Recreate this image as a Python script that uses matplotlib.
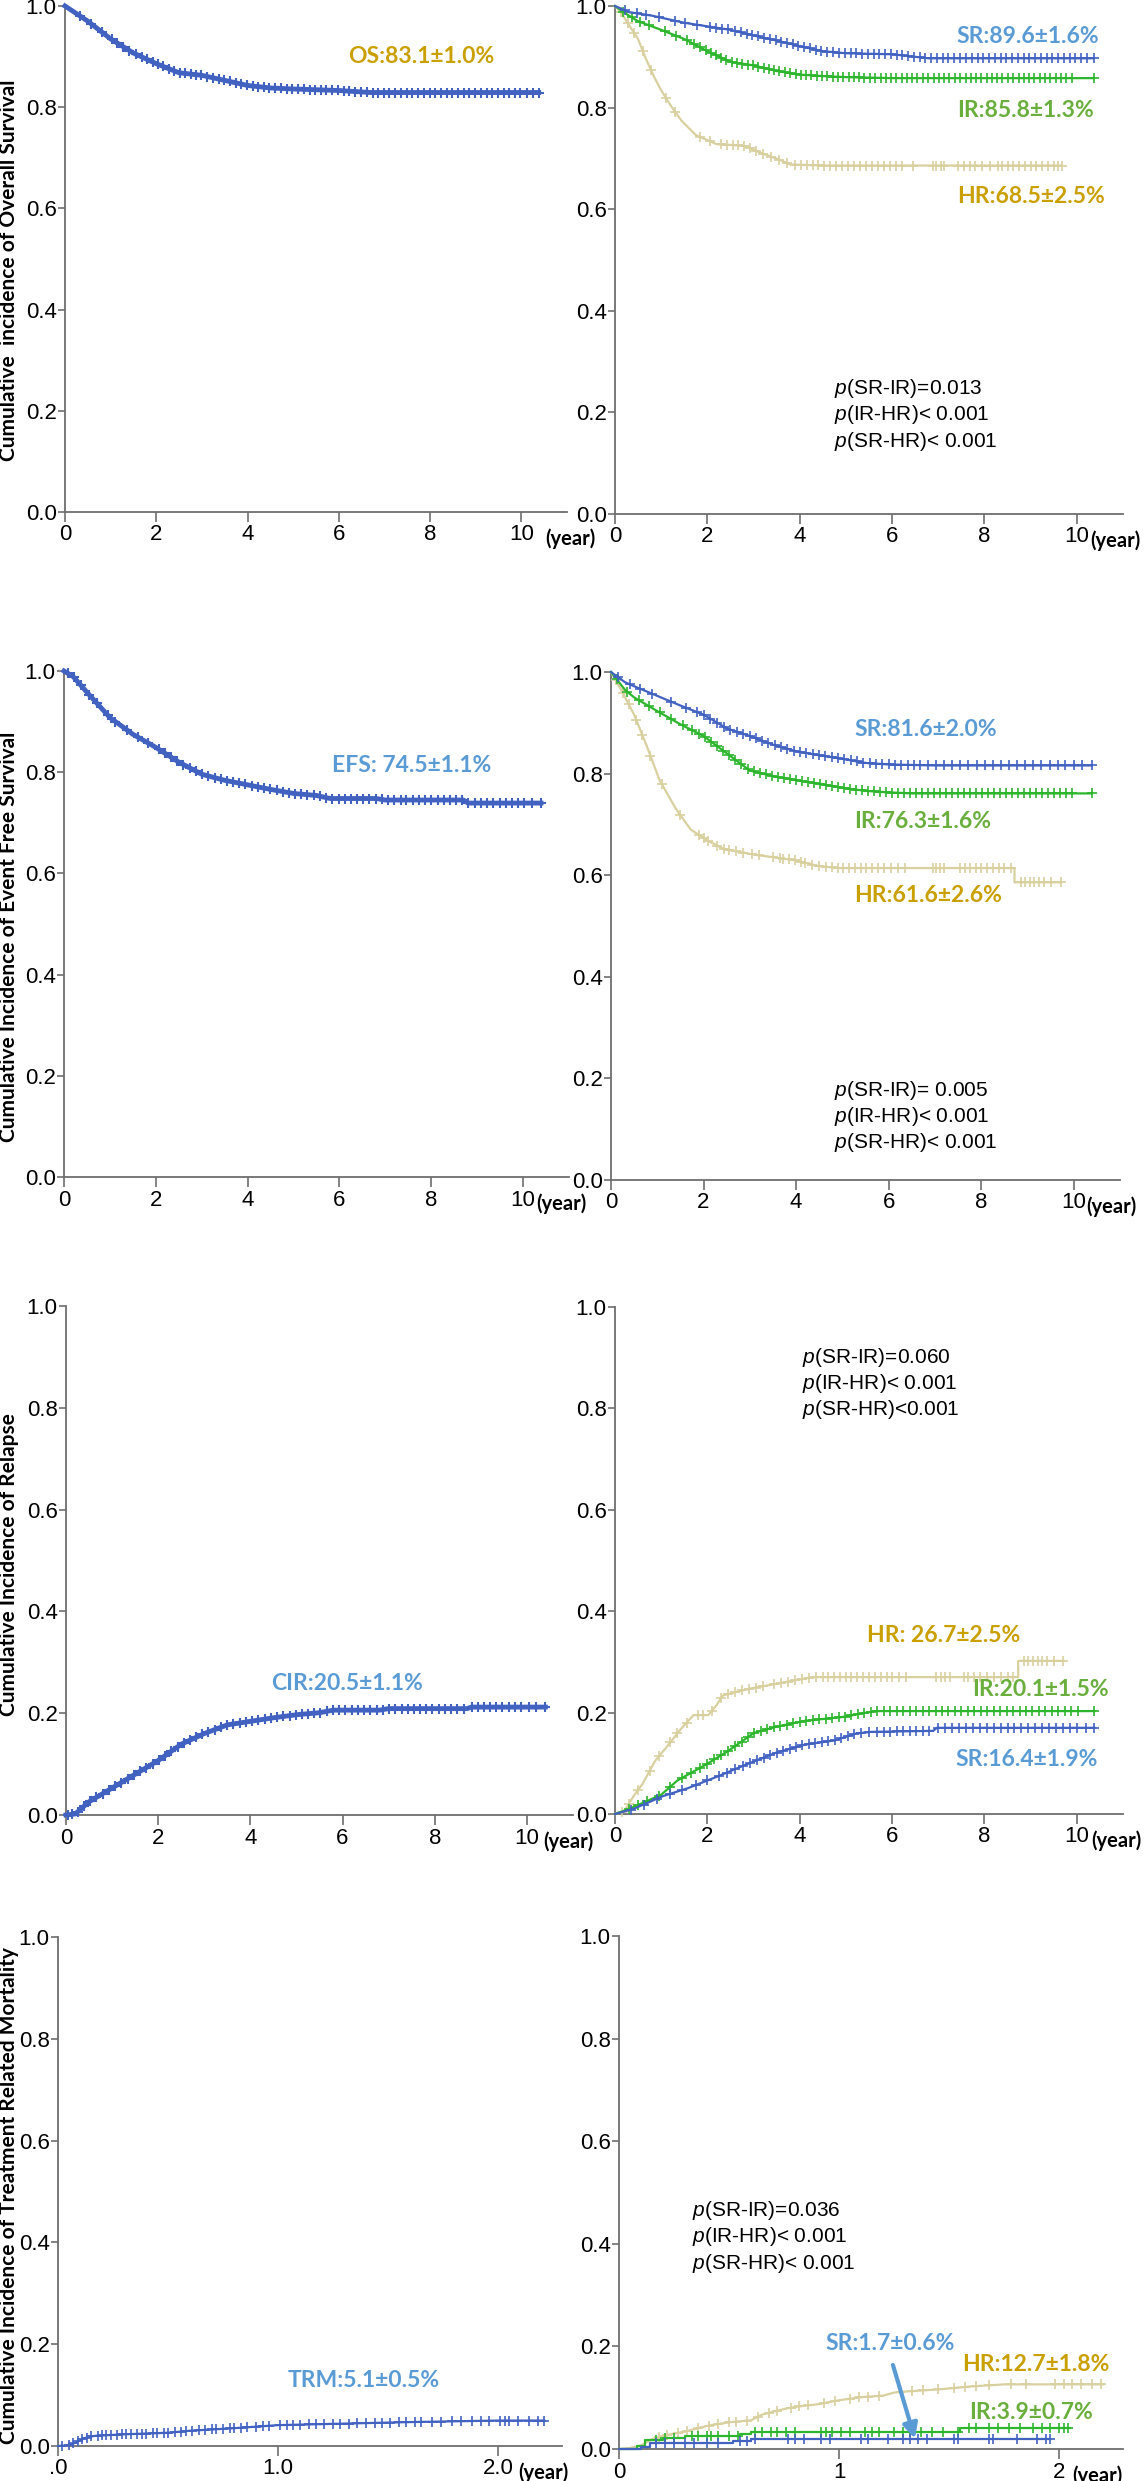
# Curvas de supervivencia / incidencia acumulada (8 paneles, 4 filas x 2 columnas)
import numpy as np
import matplotlib
matplotlib.use('Agg')
import matplotlib.pyplot as plt

plt.rcParams['font.family'] = ['Liberation Sans', 'DejaVu Sans']
plt.rcParams['mathtext.fontset'] = 'custom'
plt.rcParams['mathtext.it'] = 'Liberation Sans:italic'
plt.rcParams['mathtext.rm'] = 'Liberation Sans'

# colores
blue = '#4262C2'
green = '#2DB52D'
tan = '#D9D0A0'
gold_txt = '#C9A000'
lblue_txt = '#5B9BD5'
green_txt = '#6AAE3E'

# ---------------- datos ----------------
# Fila 1: supervivencia global
os_t = [0, 0.2, 0.5, 1.0, 1.5, 2.0, 2.5, 3.0, 3.5, 4.0, 4.5, 5.0, 6.0, 6.7, 10.38]
os_s = [1.0, 0.988, 0.970, 0.935, 0.907, 0.886, 0.868, 0.863, 0.853, 0.843, 0.838, 0.836, 0.833, 0.829, 0.829]
os_cens = [0.32, 0.58, 0.81, 1.02, 1.15, 1.27, 1.41, 1.55, 1.68, 1.79, 1.92, 2.03, 2.14, 2.27, 2.38, 2.51,
           2.62, 2.76, 2.87, 2.99, 3.12, 3.24, 3.37, 3.49, 3.61, 3.74, 3.86, 3.98, 4.11, 4.23, 4.36, 4.48,
           4.61, 4.73, 4.86, 4.98, 5.11, 5.23, 5.36, 5.48, 5.61, 5.73, 5.86, 5.98, 6.11, 6.23, 6.36, 6.48,
           6.61, 6.74, 6.86, 6.99, 7.11, 7.24, 7.36, 7.49, 7.61, 7.74, 7.86, 7.99, 8.11, 8.24, 8.36, 8.49,
           8.61, 8.74, 8.86, 8.99, 9.11, 9.24, 9.36, 9.49, 9.61, 9.74, 9.85, 9.97, 10.13, 10.25, 10.38]

sr_os_t = [0, 0.3, 0.8, 1.5, 2.0, 2.5, 3.0, 3.5, 4.0, 4.5, 5.0, 6.0, 6.5, 6.8, 10.37]
sr_os_s = [1.0, 0.988, 0.981, 0.967, 0.960, 0.953, 0.942, 0.932, 0.921, 0.911, 0.907, 0.905, 0.900, 0.897, 0.897]
sr_os_cens = [0.22, 0.47, 0.68, 0.95, 1.3, 1.52, 1.78, 2.05, 2.18, 2.31, 2.44, 2.6, 2.72, 2.85, 2.97, 3.1,
              3.22, 3.36, 3.48, 3.6, 3.73, 3.85, 3.97, 4.1, 4.22, 4.35, 4.47, 4.6, 4.72, 4.85, 4.97, 5.1,
              5.22, 5.35, 5.47, 5.6, 5.72, 5.85, 5.97, 6.1, 6.22, 6.35, 6.47, 6.6, 6.72, 6.85, 6.97, 7.1,
              7.22, 7.35, 7.47, 7.6, 7.72, 7.85, 7.97, 8.1, 8.22, 8.35, 8.47, 8.6, 8.72, 8.85, 8.97, 9.1,
              9.22, 9.35, 9.47, 9.6, 9.72, 9.85, 9.97, 10.1, 10.22, 10.37]
ir_os_t = [0, 0.3, 0.5, 1.0, 1.5, 2.0, 2.5, 3.0, 3.5, 4.0, 4.5, 5.0, 6.0, 10.37]
ir_os_s = [1.0, 0.981, 0.970, 0.953, 0.935, 0.911, 0.890, 0.883, 0.872, 0.865, 0.862, 0.860, 0.858, 0.858]
ir_os_cens = [0.18, 0.36, 0.55, 0.74, 1.08, 1.33, 1.56, 1.71, 1.84, 1.96, 2.08, 2.19, 2.3, 2.41, 2.53, 2.64,
              2.76, 2.87, 2.99, 3.1, 3.22, 3.33, 3.45, 3.56, 3.68, 3.79, 3.91, 4.02, 4.14, 4.25, 4.37, 4.48,
              4.6, 4.71, 4.83, 4.94, 5.06, 5.17, 5.29, 5.4, 5.52, 5.63, 5.75, 5.86, 5.98, 6.09, 6.21, 6.32,
              6.44, 6.55, 6.67, 6.78, 6.9, 7.01, 7.13, 7.24, 7.36, 7.47, 7.59, 7.7, 7.82, 7.93, 8.05, 8.16,
              8.28, 8.39, 8.51, 8.62, 8.74, 8.85, 8.97, 9.08, 9.2, 9.31, 9.43, 9.54, 9.66, 9.77, 9.89, 10.37]
hr_os_t = [0, 0.15, 0.3, 0.5, 0.65, 0.85, 1.0, 1.2, 1.44, 1.75, 2.2, 2.78, 3.16, 3.57, 3.8, 4.5, 9.68]
hr_os_s = [1.0, 0.985, 0.963, 0.935, 0.900, 0.860, 0.834, 0.805, 0.774, 0.746, 0.728, 0.725, 0.711, 0.697,
           0.688, 0.686, 0.686]
hr_os_cens = [0.12, 0.28, 0.41, 0.6, 0.78, 1.1, 1.3, 1.85, 2.05, 2.3, 2.42, 2.55, 2.66, 2.8, 2.92, 3.05,
              3.2, 3.38, 3.55, 3.72, 3.9, 4.02, 4.15, 4.28, 4.4, 4.53, 4.66, 4.79, 4.92, 5.05, 5.18, 5.31,
              5.44, 5.57, 5.7, 5.83, 5.96, 6.09, 6.22, 6.45, 6.88, 6.95, 7.05, 7.12, 7.42, 7.55, 7.68, 7.8,
              7.95, 8.12, 8.3, 8.38, 8.5, 8.62, 8.75, 8.88, 9.0, 9.12, 9.25, 9.38, 9.5, 9.6, 9.68]

# Fila 2: supervivencia libre de eventos
efs_t = [0, 0.2, 0.5, 1.0, 1.5, 2.0, 2.5, 3.0, 3.5, 4.0, 4.5, 5.0, 5.5, 5.8, 6.8, 7.0, 8.7, 8.8, 10.39]
efs_s = [1.0, 0.989, 0.958, 0.908, 0.875, 0.849, 0.820, 0.796, 0.784, 0.775, 0.766, 0.758, 0.754, 0.748,
         0.748, 0.745, 0.745, 0.739, 0.739]
efs_cens = [0.08, 0.21, 0.37, 0.55, 0.72, 0.95, 1.12, 1.38, 1.62, 1.83, 2.06, 2.2, 2.33, 2.47, 2.6, 2.74,
            2.87, 3.01, 3.14, 3.28, 3.41, 3.55, 3.68, 3.82, 3.95, 4.09, 4.22, 4.36, 4.49, 4.63, 4.76, 4.9,
            5.03, 5.17, 5.3, 5.44, 5.57, 5.71, 5.84, 5.98, 6.11, 6.25, 6.38, 6.52, 6.65, 6.79, 6.92, 7.06,
            7.19, 7.33, 7.46, 7.6, 7.73, 7.87, 8.0, 8.14, 8.27, 8.41, 8.54, 8.68, 8.81, 8.95, 9.08, 9.22,
            9.35, 9.49, 9.62, 9.76, 9.89, 10.03, 10.2, 10.39]

sr_efs_t = [0, 0.3, 0.5, 1.0, 1.5, 2.0, 2.5, 3.0, 3.5, 4.0, 4.5, 5.0, 5.5, 6.0, 7.0, 10.39]
sr_efs_s = [1.0, 0.980, 0.972, 0.953, 0.934, 0.916, 0.889, 0.874, 0.857, 0.844, 0.836, 0.829, 0.821, 0.818,
            0.816, 0.816]
sr_efs_cens = [0.16, 0.4, 0.62, 0.88, 1.3, 1.62, 1.85, 2.02, 2.15, 2.3, 2.45, 2.58, 2.72, 2.86, 3.0, 3.13,
               3.27, 3.4, 3.54, 3.68, 3.81, 3.95, 4.09, 4.22, 4.36, 4.5, 4.63, 4.77, 4.9, 5.04, 5.18, 5.31,
               5.45, 5.59, 5.72, 5.86, 6.0, 6.13, 6.27, 6.41, 6.54, 6.68, 6.85, 7.02, 7.2, 7.38, 7.55, 7.72,
               7.9, 8.08, 8.26, 8.43, 8.6, 8.78, 8.95, 9.12, 9.3, 9.48, 9.65, 9.82, 10.0, 10.18, 10.39]
ir_efs_t = [0, 0.3, 0.5, 1.0, 1.5, 2.0, 2.5, 3.0, 3.5, 4.0, 4.5, 5.0, 5.5, 6.0, 6.5, 10.39]
ir_efs_s = [1.0, 0.965, 0.950, 0.923, 0.897, 0.874, 0.840, 0.806, 0.795, 0.787, 0.780, 0.772, 0.766, 0.763,
            0.761, 0.761]
ir_efs_cens = [0.12, 0.35, 0.6, 0.82, 1.05, 1.3, 1.55, 1.75, 1.9, 2.04, 2.17, 2.3, 2.43, 2.56, 2.69, 2.82,
               2.95, 3.08, 3.21, 3.34, 3.47, 3.6, 3.73, 3.86, 3.99, 4.12, 4.25, 4.38, 4.51, 4.64, 4.77, 4.9,
               5.03, 5.16, 5.29, 5.42, 5.55, 5.68, 5.81, 5.94, 6.07, 6.2, 6.33, 6.46, 6.59, 6.72, 6.85, 6.98,
               7.11, 7.24, 7.37, 7.5, 7.63, 7.76, 7.89, 8.02, 8.15, 8.28, 8.41, 8.54, 8.67, 8.8, 8.93, 9.06,
               9.19, 9.32, 9.45, 9.58, 9.71, 9.84, 9.97, 10.39]
hr_efs_t = [0, 0.2, 0.5, 0.77, 1.05, 1.4, 1.72, 2.11, 2.43, 3.06, 3.53, 4.0, 4.48, 4.95, 8.72, 8.72, 9.72]
hr_efs_s = [1.0, 0.968, 0.916, 0.855, 0.787, 0.731, 0.690, 0.667, 0.652, 0.641, 0.635, 0.629, 0.618, 0.614,
            0.614, 0.586, 0.586]
hr_efs_cens = [0.1, 0.25, 0.38, 0.55, 0.68, 0.85, 1.1, 1.5, 1.9, 2.0, 2.1, 2.3, 2.45, 2.55, 2.7, 2.85,
               3.05, 3.2, 3.5, 3.65, 3.72, 3.85, 3.98, 4.1, 4.2, 4.35, 4.5, 4.65, 4.78, 4.9, 5.02, 5.15,
               5.28, 5.4, 5.52, 5.65, 5.78, 5.9, 6.05, 6.2, 6.35, 6.95, 7.02, 7.1, 7.2, 7.55, 7.65, 7.75,
               7.88, 8.0, 8.12, 8.25, 8.38, 8.5, 8.65, 8.85, 8.95, 9.05, 9.15, 9.25, 9.35, 9.5, 9.72]

# Fila 3: incidencia acumulada de recaida
cir_t = [0, 0.2, 0.5, 1.0, 1.5, 2.0, 2.5, 3.0, 3.5, 4.0, 4.5, 5.0, 5.5, 5.8, 6.8, 7.0, 8.7, 8.8, 10.4]
cir_s = [0.0, 0.002, 0.026, 0.053, 0.080, 0.107, 0.139, 0.160, 0.177, 0.184, 0.191, 0.197, 0.201, 0.206,
         0.206, 0.209, 0.209, 0.212, 0.212]
cir_cens = [0.05, 0.14, 0.26, 0.39, 0.52, 0.66, 0.8, 0.93, 1.07, 1.2, 1.34, 1.47, 1.61, 1.74, 1.88, 2.01,
            2.15, 2.28, 2.42, 2.55, 2.69, 2.82, 2.96, 3.09, 3.23, 3.36, 3.5, 3.63, 3.77, 3.9, 4.04, 4.17,
            4.31, 4.44, 4.58, 4.71, 4.85, 4.98, 5.12, 5.25, 5.39, 5.52, 5.66, 5.79, 5.93, 6.06, 6.2, 6.33,
            6.47, 6.6, 6.74, 6.87, 7.01, 7.14, 7.28, 7.41, 7.55, 7.68, 7.82, 7.95, 8.09, 8.22, 8.36, 8.49,
            8.63, 8.8, 8.93, 9.07, 9.2, 9.34, 9.47, 9.61, 9.74, 9.88, 10.05, 10.2, 10.4]

sr_cir_t = [0, 0.4, 1.03, 1.58, 2.22, 2.85, 3.49, 4.12, 4.75, 5.23, 5.55, 6.89, 6.97, 10.38]
sr_cir_s = [0.0, 0.010, 0.035, 0.051, 0.074, 0.098, 0.121, 0.137, 0.145, 0.159, 0.162, 0.164, 0.170, 0.170]
sr_cir_cens = [0.35, 0.62, 0.9, 1.2, 1.45, 1.75, 2.0, 2.25, 2.42, 2.6, 2.78, 2.92, 3.08, 3.22, 3.36, 3.5,
               3.64, 3.78, 3.92, 4.06, 4.2, 4.34, 4.48, 4.62, 4.76, 4.9, 5.04, 5.18, 5.32, 5.5, 5.68, 5.82,
               5.96, 6.1, 6.24, 6.38, 6.52, 6.66, 6.8, 7.0, 7.15, 7.3, 7.45, 7.6, 7.75, 7.9, 8.05, 8.2,
               8.35, 8.5, 8.65, 8.8, 8.95, 9.1, 9.25, 9.4, 9.55, 9.7, 9.85, 10.0, 10.2, 10.38]
ir_cir_t = [0, 0.3, 0.63, 1.0, 1.35, 1.98, 2.46, 3.01, 3.49, 4.12, 4.91, 5.63, 10.38]
ir_cir_s = [0.0, 0.010, 0.023, 0.038, 0.066, 0.098, 0.125, 0.160, 0.172, 0.184, 0.191, 0.203, 0.203]
ir_cir_cens = [0.3, 0.5, 0.7, 0.95, 1.2, 1.45, 1.65, 1.85, 2.0, 2.15, 2.3, 2.45, 2.6, 2.74, 2.88, 3.02,
               3.16, 3.3, 3.44, 3.58, 3.72, 3.86, 4.0, 4.14, 4.28, 4.42, 4.56, 4.7, 4.84, 4.98, 5.12, 5.26,
               5.4, 5.54, 5.68, 5.82, 5.96, 6.1, 6.24, 6.38, 6.52, 6.66, 6.8, 6.94, 7.08, 7.22, 7.36, 7.5,
               7.64, 7.78, 7.92, 8.06, 8.2, 8.34, 8.48, 8.62, 8.76, 8.9, 9.04, 9.18, 9.32, 9.46, 9.6, 9.74,
               9.88, 10.02, 10.38]
hr_cir_t = [0, 0.2, 0.4, 0.6, 0.87, 1.1, 1.43, 1.7, 2.02, 2.2, 2.34, 2.85, 3.33, 3.8, 4.28, 8.73, 8.73, 9.71]
hr_cir_s = [0.0, 0.005, 0.035, 0.060, 0.105, 0.130, 0.168, 0.195, 0.195, 0.215, 0.234, 0.246, 0.254, 0.262,
            0.270, 0.270, 0.302, 0.302]
hr_cir_cens = [0.15, 0.3, 0.5, 0.75, 0.95, 1.2, 1.35, 1.55, 1.8, 1.9, 2.1, 2.3, 2.45, 2.6, 2.75, 2.9,
               3.05, 3.2, 3.45, 3.6, 3.75, 3.9, 4.05, 4.2, 4.35, 4.5, 4.62, 4.75, 4.88, 5.0, 5.12, 5.25,
               5.38, 5.5, 5.62, 5.75, 5.88, 6.0, 6.15, 6.3, 6.95, 7.05, 7.15, 7.25, 7.55, 7.65, 7.78, 7.9,
               8.05, 8.2, 8.35, 8.5, 8.62, 8.85, 8.95, 9.05, 9.15, 9.25, 9.35, 9.5, 9.71]

# Fila 4: mortalidad relacionada con el tratamiento
trm_t = [0, 0.03, 0.06, 0.08, 0.10, 0.12, 0.14, 0.17, 0.3, 0.5, 0.6, 0.8, 1.0, 1.3, 1.6, 2.0, 2.21]
trm_s = [0.0, 0.001, 0.003, 0.007, 0.011, 0.015, 0.018, 0.020, 0.023, 0.026, 0.030, 0.035, 0.041, 0.044,
         0.047, 0.050, 0.050]
trm_cens = [0.02, 0.05, 0.07, 0.09, 0.11, 0.13, 0.15, 0.18, 0.2, 0.22, 0.24, 0.27, 0.29, 0.31, 0.33, 0.36,
            0.38, 0.4, 0.43, 0.45, 0.48, 0.5, 0.53, 0.56, 0.58, 0.61, 0.64, 0.67, 0.7, 0.72, 0.75, 0.78,
            0.8, 0.83, 0.86, 0.9, 0.93, 0.96, 1.01, 1.04, 1.07, 1.1, 1.14, 1.17, 1.21, 1.25, 1.28, 1.32,
            1.36, 1.4, 1.44, 1.47, 1.51, 1.55, 1.58, 1.62, 1.65, 1.7, 1.74, 1.79, 1.83, 1.88, 1.92, 1.96,
            2.01, 2.03, 2.05, 2.09, 2.14, 2.18, 2.21]

sr_trm_t = [0, 0.1, 0.1, 0.14, 0.14, 0.52, 0.52, 0.6, 0.6, 1.96]
sr_trm_s = [0.0, 0.0, 0.004, 0.004, 0.011, 0.011, 0.015, 0.015, 0.019, 0.019]
sr_trm_cens = [0.17, 0.21, 0.25, 0.3, 0.34, 0.4, 0.45, 0.55, 0.58, 0.62, 0.77, 0.8, 0.84, 0.92, 0.96,
               1.1, 1.13, 1.22, 1.29, 1.32, 1.36, 1.4, 1.52, 1.54, 1.68, 1.7, 1.81, 1.9, 1.94, 1.96]
ir_trm_t = [0, 0.08, 0.08, 0.12, 0.12, 0.2, 0.2, 0.3, 0.3, 0.55, 0.55, 0.6, 0.6, 1.55, 1.55, 2.05]
ir_trm_s = [0.0, 0.0, 0.006, 0.006, 0.017, 0.017, 0.022, 0.022, 0.026, 0.026, 0.030, 0.030, 0.034, 0.034,
            0.040, 0.040]
ir_trm_cens = [0.17, 0.21, 0.25, 0.33, 0.36, 0.4, 0.42, 0.45, 0.5, 0.54, 0.62, 0.65, 0.69, 0.72, 0.76,
               0.8, 0.92, 0.94, 0.97, 1.01, 1.05, 1.12, 1.15, 1.18, 1.25, 1.29, 1.32, 1.37, 1.42, 1.47,
               1.54, 1.59, 1.62, 1.68, 1.72, 1.77, 1.82, 1.88, 1.92, 1.96, 2.0, 2.02, 2.04]
hr_trm_t = [0, 0.05, 0.1, 0.15, 0.2, 0.3, 0.4, 0.5, 0.6, 0.65, 0.75, 0.8, 0.9, 1.0, 1.1, 1.2, 1.25, 1.3,
            1.45, 1.6, 1.75, 2.2]
hr_trm_s = [0.0, 0.002, 0.007, 0.019, 0.026, 0.034, 0.045, 0.052, 0.056, 0.067, 0.078, 0.082, 0.087, 0.095,
            0.101, 0.104, 0.110, 0.112, 0.116, 0.122, 0.126, 0.126]
hr_trm_cens = [0.18, 0.22, 0.27, 0.31, 0.36, 0.41, 0.45, 0.5, 0.53, 0.58, 0.63, 0.68, 0.72, 0.78, 0.82,
               0.86, 0.93, 0.98, 1.05, 1.09, 1.13, 1.18, 1.28, 1.33, 1.38, 1.45, 1.52, 1.57, 1.62, 1.68,
               1.78, 1.85, 1.98, 2.02, 2.06, 2.1, 2.15, 2.19]

y_ticks = [0.0, 0.2, 0.4, 0.6, 0.8, 1.0]
y_ticklabels = ['0.0', '0.2', '0.4', '0.6', '0.8', '1.0']
x_ticks_10 = [0, 2, 4, 6, 8, 10]
x_ticklabels_10 = ['0', '2', '4', '6', '8', '10']

# ---------------- figura ----------------
W, H = 1144, 2481
fig = plt.figure(figsize=(W / 100, H / 100), dpi=100)


def add_ax(l, r, t, b):
    # posiciones en pixeles (origen arriba a la izquierda)
    return fig.add_axes([l / W, 1 - b / H, (r - l) / W, (b - t) / H])


def style(ax, xmax, xt, xtl):
    ax.set_xlim(0, xmax)
    ax.set_ylim(0, 1)
    for s in ['top', 'right']:
        ax.spines[s].set_visible(False)
    for s in ['left', 'bottom']:
        ax.spines[s].set_color('#6E6E6E')
        ax.spines[s].set_linewidth(1.3)
    ax.set_yticks(y_ticks)
    ax.set_yticklabels(y_ticklabels)
    ax.set_xticks(xt)
    ax.set_xticklabels(xtl)
    ax.tick_params(axis='y', direction='out', length=5, width=1.2, color='#6E6E6E', labelsize=16, pad=1)
    ax.tick_params(axis='x', direction='out', length=7, width=1.2, color='#6E6E6E', labelsize=16, pad=2)


def curve(ax, t, s, cens, color, lw, ms, mew=1.2):
    ax.plot(t, s, color=color, lw=lw, clip_on=False, zorder=3)
    ax.plot(cens, np.interp(cens, t, s), '+', color=color, ms=ms, mew=mew, clip_on=False, zorder=3)


def tag(ax, x, y, s, color):
    ax.text(x, y, s, color=color, fontsize=16.5, fontweight='bold', family='Lato', va='center', ha='left')


def pvals(ax, x, y, lines):
    for i, ln in enumerate(lines):
        ax.annotate(ln, xy=(x, y), xytext=(0, -19 * i), textcoords='offset points',
                    fontsize=15, va='center', ha='left')


def year(ax, x):
    ax.annotate('(year)', xy=(x, 0), xycoords=('data', 'axes fraction'), xytext=(0, -19),
                textcoords='offset points', fontsize=14.5, fontweight='bold', family='Lato',
                va='center', ha='left', annotation_clip=False)


def ylab(y, s):
    fig.text(9 / W, 1 - y / H, s, rotation=90, ha='center', va='center', fontsize=15,
             fontweight='bold', family='Lato')


# --- Fila 1: OS ---
ax1 = add_ax(65, 567, 6, 512)
style(ax1, 11, x_ticks_10, x_ticklabels_10)
curve(ax1, os_t, os_s, os_cens, blue, 3.5, 7, 1.5)
tag(ax1, 6.2, 0.90, 'OS:83.1±1.0%', gold_txt)
year(ax1, 10.52)
ylab(270, 'Cumulative  incidence of Overall Survival')

ax2 = add_ax(615, 1123, 6, 514)
style(ax2, 11, x_ticks_10, x_ticklabels_10)
curve(ax2, hr_os_t, hr_os_s, hr_os_cens, tan, 1.6, 6.5)
curve(ax2, ir_os_t, ir_os_s, ir_os_cens, green, 1.6, 6.5)
curve(ax2, sr_os_t, sr_os_s, sr_os_cens, blue, 1.6, 6.5)
tag(ax2, 7.4, 0.940, 'SR:89.6±1.6%', lblue_txt)
tag(ax2, 7.4, 0.795, 'IR:85.8±1.3%', green_txt)
tag(ax2, 7.4, 0.625, 'HR:68.5±2.5%', gold_txt)
pvals(ax2, 4.75, 0.247, ['$p$(SR-IR)=0.013', '$p$(IR-HR)< 0.001', '$p$(SR-HR)< 0.001'])
year(ax2, 10.29)

# --- Fila 2: EFS ---
ax3 = add_ax(64, 569, 671, 1177)
style(ax3, 11, x_ticks_10, x_ticklabels_10)
curve(ax3, efs_t, efs_s, efs_cens, blue, 3.5, 7, 1.5)
tag(ax3, 5.84, 0.813, 'EFS: 74.5±1.1%', lblue_txt)
year(ax3, 10.28)
ylab(937, 'Cumulative Incidence of Event Free Survival')

ax4 = add_ax(611, 1120, 672, 1180)
style(ax4, 11, x_ticks_10, x_ticklabels_10)
curve(ax4, hr_efs_t, hr_efs_s, hr_efs_cens, tan, 1.6, 6.5)
curve(ax4, ir_efs_t, ir_efs_s, ir_efs_cens, green, 1.6, 6.5)
curve(ax4, sr_efs_t, sr_efs_s, sr_efs_cens, blue, 1.6, 6.5)
tag(ax4, 5.27, 0.887, 'SR:81.6±2.0%', lblue_txt)
tag(ax4, 5.25, 0.706, 'IR:76.3±1.6%', green_txt)
tag(ax4, 5.25, 0.561, 'HR:61.6±2.6%', gold_txt)
pvals(ax4, 4.83, 0.177, ['$p$(SR-IR)= 0.005', '$p$(IR-HR)< 0.001', '$p$(SR-HR)< 0.001'])
year(ax4, 10.28)

# --- Fila 3: CIR ---
ax5 = add_ax(66, 573, 1306, 1815)
style(ax5, 11, x_ticks_10, x_ticklabels_10)
curve(ax5, cir_t, cir_s, cir_cens, blue, 3.5, 7, 1.5)
tag(ax5, 4.46, 0.259, 'CIR:20.5±1.1%', lblue_txt)
year(ax5, 10.36)
ylab(1565, 'Cumulative Incidence of Relapse')

ax6 = add_ax(615, 1123, 1307, 1814)
style(ax6, 11, x_ticks_10, x_ticklabels_10)
curve(ax6, hr_cir_t, hr_cir_s, hr_cir_cens, tan, 1.6, 6.5)
curve(ax6, ir_cir_t, ir_cir_s, ir_cir_cens, green, 1.6, 6.5)
curve(ax6, sr_cir_t, sr_cir_s, sr_cir_cens, blue, 1.6, 6.5)
tag(ax6, 5.45, 0.353, 'HR: 26.7±2.5%', gold_txt)
tag(ax6, 7.73, 0.245, 'IR:20.1±1.5%', green_txt)
tag(ax6, 7.37, 0.107, 'SR:16.4±1.9%', lblue_txt)
pvals(ax6, 4.04, 0.901, ['$p$(SR-IR)=0.060', '$p$(IR-HR)< 0.001', '$p$(SR-HR)<0.001'])
year(ax6, 10.32)

# --- Fila 4: TRM ---
ax7 = add_ax(58, 562, 1937, 2446)
style(ax7, 2.29, [0, 1, 2], ['.0', '1.0', '2.0'])
curve(ax7, trm_t, trm_s, trm_cens, blue, 1.6, 7)
tag(ax7, 1.045, 0.128, 'TRM:5.1±0.5%', lblue_txt)
year(ax7, 2.09)
ylab(2196, 'Cumulative Incidence of Treatment Related Mortality')

ax8 = add_ax(619, 1123, 1936, 2449)
style(ax8, 2.29, [0, 1, 2], ['0', '1', '2'])
curve(ax8, hr_trm_t, hr_trm_s, hr_trm_cens, tan, 1.6, 7)
curve(ax8, ir_trm_t, ir_trm_s, ir_trm_cens, green, 1.6, 7)
curve(ax8, sr_trm_t, sr_trm_s, sr_trm_cens, blue, 1.6, 7)
tag(ax8, 0.938, 0.205, 'SR:1.7±0.6%', lblue_txt)
tag(ax8, 1.56, 0.164, 'HR:12.7±1.8%', gold_txt)
tag(ax8, 1.593, 0.072, 'IR:3.9±0.7%', green_txt)
ax8.annotate('', xy=(1.348, 0.015), xytext=(1.241, 0.169),
             arrowprops=dict(arrowstyle='-|>', color=lblue_txt, lw=3, mutation_scale=22))
pvals(ax8, 0.331, 0.465, ['$p$(SR-IR)=0.036', '$p$(IR-HR)< 0.001', '$p$(SR-HR)< 0.001'])
year(ax8, 2.06)

fig.savefig('out.png', dpi=100)
